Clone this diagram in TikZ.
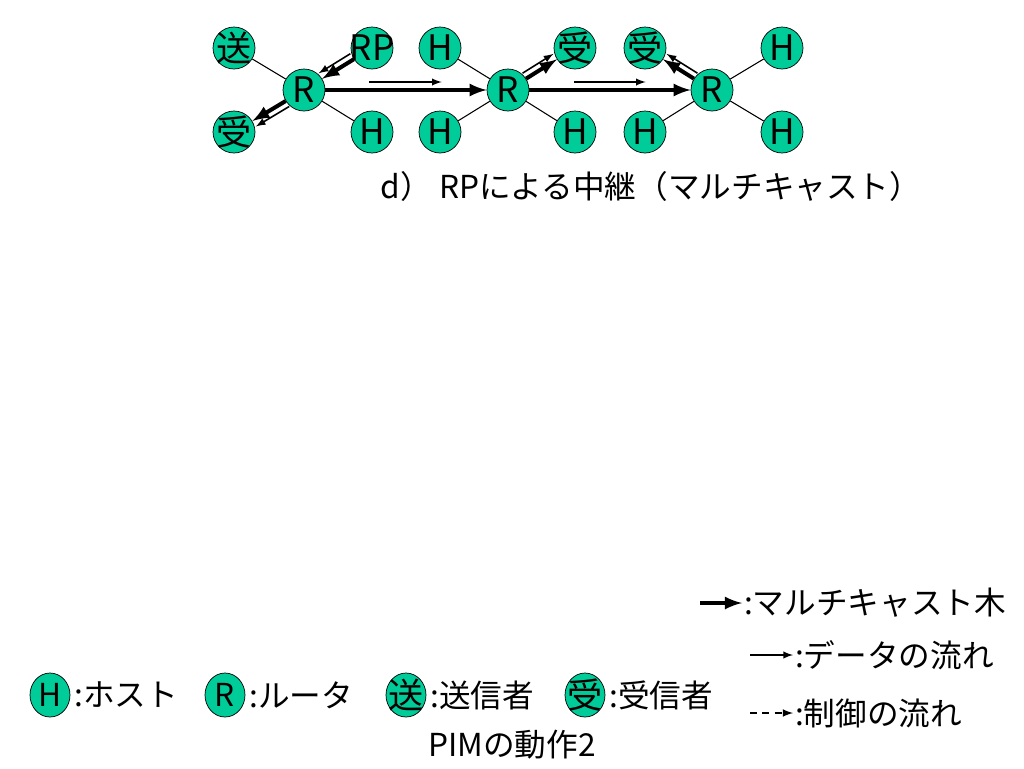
\documentclass[tikz,border=0pt]{standalone}
\usepackage{fontspec}
\setmainfont{Noto Sans CJK JP}
\usetikzlibrary{shapes.geometric,positioning}
\definecolor{vert}{RGB}{0,204,153}

\tikzset{
  rond/.style={circle,draw,fill=vert,minimum size=0.84cm,inner sep=-3pt,font=\fontsize{20}{20}\selectfont},
  kanji/.style={font=\fontsize{20}{20}\selectfont},
  ovale/.style={ellipse,draw,fill=vert,minimum width=0.8cm,minimum height=0.88cm,inner sep=-4pt,font=\fontsize{18}{18}\selectfont},
  leg/.style={font=\fontsize{18}{18}\selectfont,inner sep=1pt},
  lien/.style={line width=0.6pt},
  arbre/.style={-latex,line width=2.3pt},
  flux/.style={-latex,line width=0.9pt},
  ctrl/.style={-latex,line width=1pt,dash pattern=on 4pt off 3pt}
}

\begin{document}
\begin{tikzpicture}[x=0.02cm,y=-0.02cm]
\useasboundingbox (0,0) rectangle (1024,768);

% Noeuds
\node[rond,kanji] (snd) at (234,48) {送};
\node[rond] (rp) at (372,48) {RP};
\node[rond] (hA) at (440,48) {H};
\node[rond,kanji] (rcvA) at (575,48) {受};
\node[rond,kanji] (rcvB) at (645,48) {受};
\node[rond] (hB) at (782,48) {H};

\node[rond] (rA) at (304,90) {R};
\node[rond] (rB) at (508,90) {R};
\node[rond] (rC) at (712,90) {R};

\node[rond,kanji] (rcvC) at (234,132) {受};
\node[rond] (hC) at (372,132) {H};
\node[rond] (hD) at (440,132) {H};
\node[rond] (hE) at (575,132) {H};
\node[rond] (hF) at (645,132) {H};
\node[rond] (hG) at (782,132) {H};

% Liens
\draw[lien] (snd) -- (rA);
\draw[lien] (rA) -- (hC);
\draw[lien] (hA) -- (rB);
\draw[lien] (hD) -- (rB);
\draw[lien] (rB) -- (hE);
\draw[lien] (hF) -- (rC);
\draw[lien] (rC) -- (hB);
\draw[lien] (rC) -- (hG);

% Arbre
\draw[arbre] (rp) -- (rA);
\draw[arbre] (rA) -- (rcvC);
\draw[arbre] (rA) -- (rB);
\draw[arbre] (rB) -- (rC);
\draw[arbre] (rB) -- (rcvA);
\draw[arbre] (rC) -- (rcvB);

% Donnees
\draw[flux,transform canvas={xshift=-0.07cm,yshift=0.11cm}] (rp) -- (rA);
\draw[flux,transform canvas={xshift=0.07cm,yshift=-0.11cm}] (rA) -- (rcvC);
\draw[flux,transform canvas={xshift=-0.07cm,yshift=0.11cm}] (rB) -- (rcvA);
\draw[flux,transform canvas={xshift=0.07cm,yshift=0.11cm}] (rC) -- (rcvB);
\draw[flux,shorten <=0.88cm,shorten >=0.9cm,transform canvas={yshift=0.16cm}] (rA) -- (rB);
\draw[flux,shorten <=0.9cm,shorten >=0.9cm,transform canvas={yshift=0.16cm}] (rB) -- (rC);

\node[font=\fontsize{18}{18}\selectfont] (titre) at (651,186) {d）\ RPによる中継（マルチキャスト）};

% Legende
\coordinate (aTree) at (700,603);
\node[leg,anchor=west] (tTree) at (742,603) {:マルチキャスト木};
\draw[arbre] (aTree) -- (tTree.west);

\coordinate (aData) at (750,655);
\node[leg,anchor=west] (tData) at (793,655) {:データの流れ};
\draw[flux] (aData) -- (tData.west);

\coordinate (aCtrl) at (750,713);
\node[leg,anchor=west] (tCtrl) at (793,713) {:制御の流れ};
\draw[ctrl] (aCtrl) -- (tCtrl.west);

\node[ovale] (kH) at (50,695) {H};
\node[leg,right=1pt of kH] (tH) {:ホスト};
\node[ovale] (kR) at (225,695) {R};
\node[leg,right=1pt of kR] (tR) {:ルータ};
\node[ovale,kanji] (kS) at (406,695) {送};
\node[leg,right=1pt of kS] (tS) {:送信者};
\node[ovale,kanji] (kV) at (585,695) {受};
\node[leg,right=1pt of kV] (tV) {:受信者};

\node[leg] (pim) at (512,745) {PIMの動作2};

\end{tikzpicture}
\end{document}
